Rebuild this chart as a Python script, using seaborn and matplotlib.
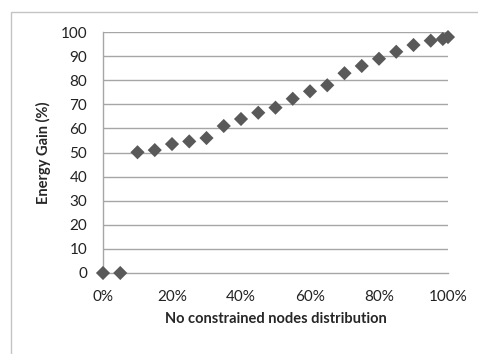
import matplotlib
matplotlib.use("Agg")
import matplotlib.pyplot as plt
import matplotlib.patches as patches
import seaborn as sns
import pandas as pd

# values
distribution = [0, 5, 10, 15, 20, 25, 30, 35, 40, 45, 50, 55, 60, 65, 70, 75, 80, 85, 90, 95, 98.5, 100]
energy_gain = [0, 0, 50.1, 51.0, 53.5, 54.6, 56.0, 61.0, 63.9, 66.5, 68.6, 72.3, 75.4, 77.9,
               82.9, 85.9, 88.9, 91.8, 94.6, 96.4, 97.1, 97.9]
x_ticks = [0, 20, 40, 60, 80, 100]
x_tick_labels = ["0%", "20%", "40%", "60%", "80%", "100%"]
y_ticks = list(range(0, 101, 10))

df = pd.DataFrame({"dist": distribution, "gain": energy_gain})

sns.set_style("white")
plt.rcParams["font.family"] = ["Lato", "DejaVu Sans"]

fig = plt.figure(figsize=(4.78, 3.54), dpi=100)
ax = fig.add_axes([103 / 478, 1 - 273 / 354, 345 / 478, 241 / 354])

grid_col = "#a6a6a6"
for v in y_ticks[1:]:
    ax.axhline(v, color=grid_col, lw=1.0, zorder=0)

sns.scatterplot(data=df, x="dist", y="gain", marker="D", s=52, color="#595959",
                edgecolor="none", linewidth=0, ax=ax, clip_on=False, zorder=3)

ax.set_xlim(0, 100)
ax.set_ylim(0, 100)
ax.set_xticks(x_ticks)
ax.set_xticklabels(x_tick_labels)
ax.set_yticks(y_ticks)

for s in ["top", "right"]:
    ax.spines[s].set_visible(False)
for s in ["left", "bottom"]:
    ax.spines[s].set_color(grid_col)
    ax.spines[s].set_linewidth(1.0)

ax.tick_params(axis="both", direction="out", length=4.3, width=1.0, color=grid_col,
               labelsize=11, labelcolor="#222222")
ax.tick_params(axis="y", pad=7)
ax.tick_params(axis="x", pad=8)

ax.set_xlabel("No constrained nodes distribution", fontsize=10.5, fontweight="bold", labelpad=6)
ax.set_ylabel("Energy Gain (%)", fontsize=10.5, fontweight="bold", labelpad=7)

# outer chart frame (cut off at right and bottom)
frame = patches.Rectangle((11 / 478, -0.2), 1.2, 1.2 - 12 / 354, transform=fig.transFigure,
                          fill=False, edgecolor="#c4c4c4", lw=1.0, clip_on=False)
fig.patches.append(frame)

fig.savefig("out.png", dpi=100)
